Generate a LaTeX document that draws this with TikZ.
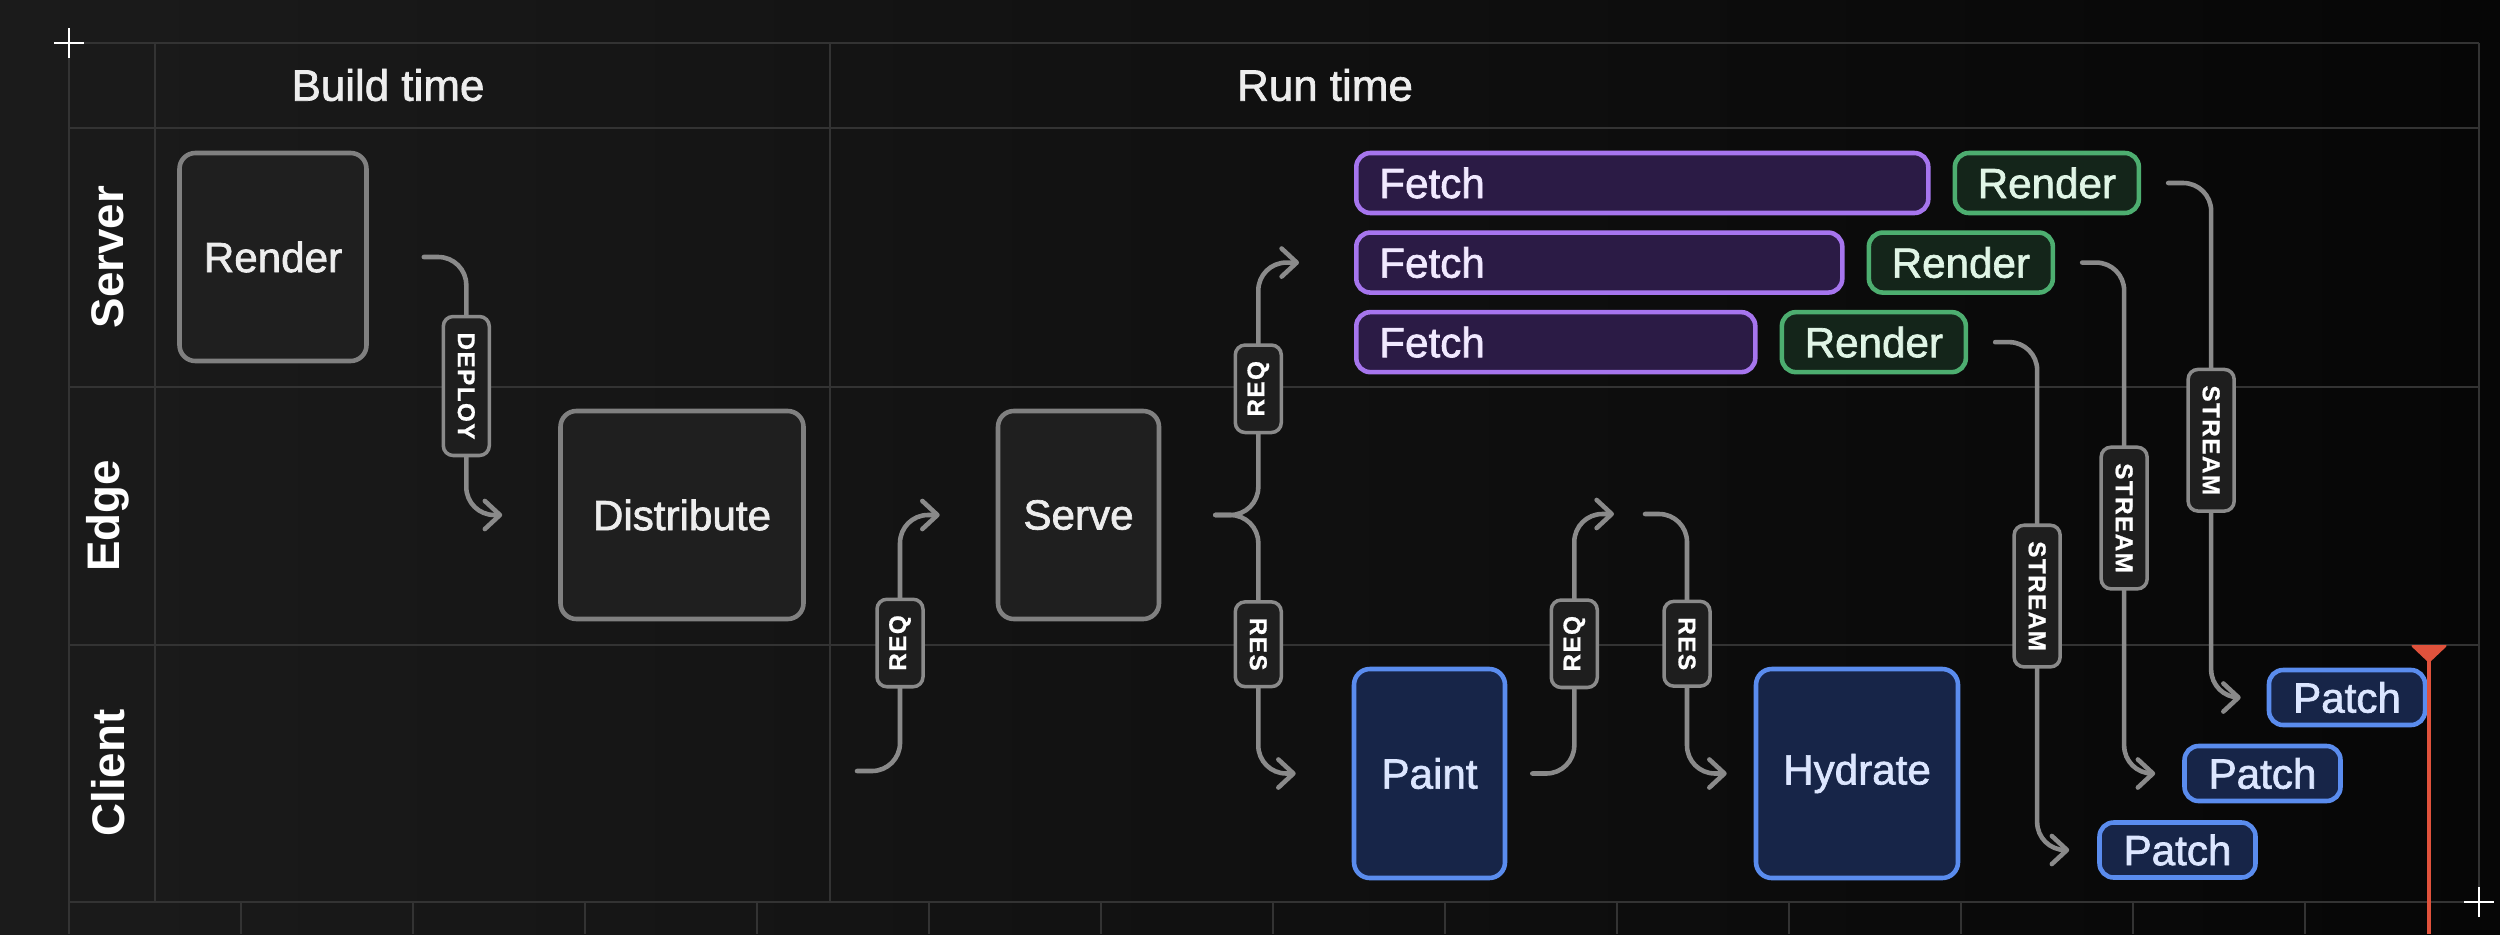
\documentclass[tikz,border=0pt]{standalone}
\usepackage{fontspec}
\setmainfont{Liberation Sans}
\newfontfamily\medfont{Liberation Sans}[FakeBold=1.6]
\newfontfamily\tagfont{Liberation Sans}[LetterSpace=6, FakeBold=0.8]
\usetikzlibrary{arrows.meta,positioning,calc}

\definecolor{bgleft}{HTML}{1B1B1B}
\definecolor{bgright}{HTML}{060606}
\definecolor{gridline}{HTML}{333333}
\definecolor{stagedraw}{HTML}{808080}
\definecolor{stagefill}{HTML}{1F1F1F}
\definecolor{flowgray}{HTML}{8A8A8A}
\definecolor{tagfill}{HTML}{1E1E1E}
\definecolor{fetchdraw}{HTML}{A675EE}
\definecolor{fetchfill}{HTML}{2B1B45}
\definecolor{fetchtext}{HTML}{F1E9FF}
\definecolor{renderdraw}{HTML}{4DAE70}
\definecolor{renderfill}{HTML}{14251A}
\definecolor{rendertext}{HTML}{E0F5E6}
\definecolor{clientdraw}{HTML}{5A8CEE}
\definecolor{clientfill}{HTML}{172548}
\definecolor{clienttext}{HTML}{DCE6FF}
\definecolor{nowred}{HTML}{E0523C}

\begin{document}
\begin{tikzpicture}[>={Straight Barb[length=4.3pt,width=8pt,round]}]
    \tikzstyle{gridrule} = [draw=gridline, line width=0.8pt]
    \tikzstyle{lane}     = [text=white, font=\bfseries\fontsize{13}{15}\selectfont]
    \tikzstyle{header}   = [text=white!93!black, font=\medfont\fontsize{12.5}{15}\selectfont]
    \tikzstyle{stage}    = [draw=stagedraw, fill=stagefill, line width=1.3pt, rounded corners=4.5pt, text=white!93!black, font=\medfont\fontsize{12}{14}\selectfont, inner sep=0pt]
    \tikzstyle{fetch}    = [draw=fetchdraw, fill=fetchfill, line width=1.3pt, rounded corners=4pt, text=fetchtext, font=\medfont\fontsize{12}{14}\selectfont, minimum height=0.6cm, inner xsep=0.23cm, inner ysep=0pt, align=left]
    \tikzstyle{render}   = [draw=renderdraw, fill=renderfill, line width=1.3pt, rounded corners=4pt, text=rendertext, font=\medfont\fontsize{12}{14}\selectfont, minimum width=1.84cm, minimum height=0.6cm, inner sep=0pt]
    \tikzstyle{client}   = [draw=clientdraw, fill=clientfill, line width=1.3pt, rounded corners=4.5pt, text=clienttext, font=\medfont\fontsize{12}{14}\selectfont, inner sep=0pt]
    \tikzstyle{patch}    = [client, rounded corners=4pt, minimum width=1.56cm, minimum height=0.55cm]
    \tikzstyle{flow}     = [draw=flowgray, line width=1.3pt, line cap=round, rounded corners=0.28cm, ->]
    \tikzstyle{tag}      = [draw=flowgray, fill=tagfill, line width=1pt, rounded corners=2.8pt, text=white, font=\tagfont\bfseries\fontsize{6.9}{8}\selectfont, minimum height=0.46cm, inner xsep=0.16cm, inner ysep=0pt]

    \useasboundingbox (0,0) rectangle (25,9.34);
    \shade[left color=bgleft, right color=bgright] (0,0) rectangle (25,9.34);

    % Grid
    \foreach \y in {8.91,8.06,5.47,2.89,0.32}
        \draw[gridrule] (0.69,\y) -- (24.79,\y);
    \foreach \x in {1.55,8.30,24.79}
        \draw[gridrule] (\x,8.91) -- (\x,0.32);
    \draw[gridrule] (0.69,8.91) -- (0.69,0);
    \foreach \k in {0,...,12}
        \draw[gridrule] ({2.41+1.72*\k},0.32) -- ++(0,-0.32);
    \foreach \p in {(0.69,8.91),(24.79,0.32)}
        \draw[white, line width=0.6pt] \p ++(-0.15,0) -- ++(0.3,0) \p ++(0,-0.15) -- ++(0,0.3);

    % Lanes and phases
    \node[lane, rotate=90] (server) at (1.08,6.77) {Server};
    \node[lane, rotate=90] (edge)   at (1.08,4.18) {Edge};
    \node[lane, rotate=90] (client) at (1.08,1.61) {Client};
    \node[header] (buildtime) at (3.88,8.49) {Build time};
    \node[header] (runtime)   at (13.25,8.49) {Run time};

    % Build time
    \node[stage, minimum width=1.87cm, minimum height=2.08cm] (render) at (2.73,6.77) {Render};
    \node[stage, minimum width=2.43cm, minimum height=2.08cm] (distribute) at (6.82,4.19) {Distribute};

    % Run time
    \node[stage, minimum width=1.61cm, minimum height=2.08cm] (serve) at (10.785,4.19) {Serve};
    \node[fetch, text width=5.26cm, anchor=west] (fetch1) at (13.54,7.51) {Fetch};
    \node[fetch, text width=4.40cm, below=0.15cm of fetch1.south west, anchor=north west] (fetch2) {Fetch};
    \node[fetch, text width=3.53cm, below=0.15cm of fetch2.south west, anchor=north west] (fetch3) {Fetch};
    \node[render, right=0.22cm of fetch1] (render1) {Render};
    \node[render, right=0.22cm of fetch2] (render2) {Render};
    \node[render, right=0.22cm of fetch3] (render3) {Render};

    \node[client, minimum width=1.51cm, minimum height=2.09cm] (paint) at (14.295,1.605) {Paint};
    \node[client, minimum width=2.02cm, minimum height=2.09cm] (hydrate) at (18.57,1.605) {Hydrate};
    \node[patch] (patch1) at (23.47,2.365) {Patch};
    \node[patch] (patch2) at (22.625,1.605) {Patch};
    \node[patch] (patch3) at (21.775,0.84) {Patch};

    \coordinate (reqin)  at (8.57,1.63);
    \coordinate (reqout) at (16.14,4.20);
    \coordinate (resin)  at (16.45,4.20);

    % Connections
    \draw[flow] ($(render.east)+(0.55,0)$) -- ++(0.425,0) |- node[tag, rotate=-90, pos=0.25] {DEPLOY} ($(distribute.west)+(-0.56,0)$);
    \draw[flow] (reqin) -- ++(0.43,0) |- node[tag, rotate=90, pos=0.25] {REQ} ($(serve.west)+(-0.56,0)$);
    \draw[flow] ($(serve.east)+(0.54,0)$) -- ++(0.43,0) |- node[tag, rotate=90, pos=0.25] {REQ} ($(fetch2.west)+(-0.55,0)$);
    \draw[flow] ($(serve.east)+(0.54,0)$) -- ++(0.43,0) |- node[tag, rotate=-90, pos=0.25] {RES} ($(paint.west)+(-0.56,0)$);
    \draw[flow] ($(paint.east)+(0.25,0)$) -- ++(0.42,0) |- node[tag, rotate=90, pos=0.25] {REQ} (reqout);
    \draw[flow] (resin) -- ++(0.42,0) |- node[tag, rotate=-90, pos=0.25] {RES} ($(hydrate.west)+(-0.27,0)$);
    \draw[flow] ($(render1.east)+(0.27,0)$) -- ++(0.43,0) |- node[tag, rotate=-90, pos=0.25] {STREAM} ($(patch1.west)+(-0.26,0)$);
    \draw[flow] ($(render2.east)+(0.27,0)$) -- ++(0.42,0) |- node[tag, rotate=-90, pos=0.25] {STREAM} ($(patch2.west)+(-0.27,0)$);
    \draw[flow] ($(render3.east)+(0.27,0)$) -- ++(0.42,0) |- node[tag, rotate=-90, pos=0.25] {STREAM} ($(patch3.west)+(-0.28,0)$);

    % Now marker
    \draw[nowred, line width=1.4pt] (24.29,2.76) -- (24.29,0);
    \fill[nowred, rounded corners=0.8pt] (24.10,2.89) -- (24.48,2.89) -- (24.29,2.71) -- cycle;

\end{tikzpicture}
\end{document}
